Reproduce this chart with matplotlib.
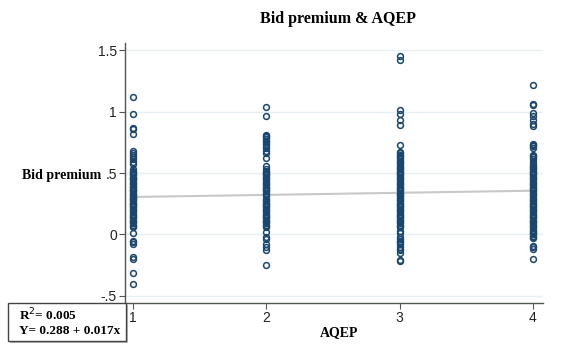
import numpy as np
import matplotlib.pyplot as plt
from matplotlib.patches import Rectangle

# AQEP categories and observed bid premiums
aqep_levels = [1, 2, 3, 4]

premium_1 = [1.12, 0.98, 0.87, 0.86, 0.82, 0.68, 0.66, 0.65, 0.63, 0.61, 0.59, 0.57,
             0.53, 0.52, 0.51, 0.50, 0.49, 0.48, 0.47, 0.46, 0.455, 0.45, 0.44, 0.43,
             0.42, 0.41, 0.40, 0.39, 0.385, 0.37, 0.365, 0.36, 0.35, 0.34, 0.33, 0.32,
             0.31, 0.30, 0.295, 0.29, 0.28, 0.27, 0.26, 0.25, 0.245, 0.24, 0.23, 0.22,
             0.21, 0.20, 0.19, 0.18, 0.17, 0.16, 0.15, 0.14, 0.13, 0.12, 0.11, 0.10,
             0.09, 0.08, 0.07, 0.06,
             0.01, -0.05, -0.06, -0.08, -0.18, -0.20, -0.31, -0.40]
premium_2 = [1.04, 0.96, 0.81, 0.80, 0.79, 0.78, 0.76, 0.75, 0.74, 0.72, 0.70, 0.68, 0.66,
             0.62, 0.56,
             0.53, 0.52, 0.51, 0.50, 0.49, 0.48, 0.47, 0.46, 0.45, 0.44, 0.43, 0.42,
             0.41, 0.40, 0.39, 0.38, 0.37, 0.36, 0.35, 0.34, 0.33, 0.31, 0.29, 0.28,
             0.27, 0.26, 0.25, 0.24, 0.23, 0.22, 0.21, 0.20, 0.19, 0.18, 0.17, 0.16,
             0.15, 0.14, 0.13, 0.12, 0.11, 0.10, 0.09, 0.08, 0.07, 0.06,
             0.02, -0.02, -0.04, -0.08, -0.10, -0.13, -0.25]
premium_3 = [1.45, 1.42, 1.01, 0.98, 0.93, 0.89, 0.73, 0.67, 0.66, 0.65, 0.64, 0.63, 0.61,
             0.60, 0.59, 0.58, 0.57, 0.56, 0.55, 0.54, 0.53, 0.52, 0.51, 0.50, 0.49,
             0.48, 0.47, 0.46, 0.45, 0.44, 0.43, 0.42, 0.41, 0.40, 0.39, 0.38, 0.37,
             0.36, 0.35, 0.34, 0.33, 0.32, 0.31, 0.30, 0.29, 0.28, 0.27, 0.26, 0.25,
             0.24, 0.23, 0.22, 0.21, 0.20, 0.19, 0.18, 0.17, 0.16, 0.15, 0.14, 0.13,
             0.12, 0.11, 0.10, 0.09, 0.08, 0.07, 0.06,
             0.03, 0.01, -0.02, -0.04, -0.05, -0.06, -0.08, -0.10, -0.12, -0.13,
             -0.15, -0.21, -0.22]
premium_4 = [1.22, 1.06, 1.05, 0.99, 0.96, 0.93, 0.90, 0.88, 0.74, 0.73, 0.72, 0.70,
             0.65, 0.64, 0.63, 0.61, 0.59,
             0.57, 0.56, 0.55, 0.54, 0.53, 0.52, 0.51, 0.50, 0.49, 0.48, 0.47, 0.46,
             0.45, 0.44, 0.43, 0.42, 0.41, 0.40, 0.39, 0.38, 0.37, 0.36, 0.35, 0.34,
             0.33, 0.32, 0.31, 0.30, 0.29, 0.28, 0.27, 0.26, 0.25, 0.24, 0.23, 0.22,
             0.21, 0.20, 0.19, 0.18, 0.17, 0.16, 0.15, 0.14, 0.13, 0.12, 0.11, 0.10,
             0.09, 0.08, 0.07, 0.06, 0.05, 0.04, 0.03, 0.02, 0.01, 0.00, -0.01,
             -0.02, -0.03,
             -0.09, -0.10, -0.12, -0.20]
premiums = [premium_1, premium_2, premium_3, premium_4]

# fitted line
intercept = 0.288
slope = 0.017
r_squared = 0.005

y_ticks = [-0.5, 0, 0.5, 1, 1.5]
y_tick_labels = ['-.5', '0', '.5', '1', '1.5']

navy = '#1a476f'
serif = ['Liberation Serif', 'DejaVu Serif']
sans = ['Liberation Sans', 'DejaVu Sans']

fig = plt.figure(figsize=(5.66, 3.45), dpi=100)
ax = fig.add_axes([0.221, 0.122, 0.738, 0.753])

for grid_y in y_ticks:
    ax.axhline(grid_y, color='#e6eff2', lw=1.0, zorder=0)

for level, vals in zip(aqep_levels, premiums):
    ax.plot([level] * len(vals), vals, linestyle='none', marker='o', ms=4.2,
            mfc='none', mec=navy, mew=1.1, zorder=3)

xs = np.array([aqep_levels[0], aqep_levels[-1]])
ax.plot(xs, intercept + slope * xs, color='#c8c8c8', lw=1.5, zorder=2)

ax.set_xlim(0.94, 4.075)
ax.set_ylim(-0.557, 1.557)
ax.set_xticks(aqep_levels)
ax.set_xticklabels([str(v) for v in aqep_levels], family=sans, fontsize=10, color='#222222')
ax.set_yticks(y_ticks)
ax.set_yticklabels(y_tick_labels, family=sans, fontsize=10, color='#222222')
ax.tick_params(axis='both', direction='out', length=4, width=0.8, color='#555555', pad=2)

for side in ['top', 'right']:
    ax.spines[side].set_visible(False)
for side in ['left', 'bottom']:
    ax.spines[side].set_color('#555555')
    ax.spines[side].set_linewidth(1.0)

fig.text(0.597, 0.945, 'Bid premium & AQEP', ha='center', va='center',
         family=serif, fontweight='bold', fontsize=11.5)
fig.text(0.038, 0.492, 'Bid premium', ha='left', va='center',
         family=serif, fontweight='bold', fontsize=10)
fig.text(0.599, 0.035, 'AQEP', ha='center', va='center',
         family=serif, fontweight='bold', fontsize=10)

# R-squared / equation box in the lower-left corner
box_x0, box_y0, box_w, box_h = 8 / 566, 4 / 345, 118 / 566, 38 / 345
fig.patches.append(Rectangle((box_x0 + 2 / 566, box_y0 - 2 / 345), box_w, box_h,
                             transform=fig.transFigure, facecolor='#bbbbbb',
                             edgecolor='none', zorder=1))
fig.patches.append(Rectangle((box_x0, box_y0), box_w, box_h,
                             transform=fig.transFigure, facecolor='white',
                             edgecolor='#444444', lw=1.0, zorder=2))
fig.text(0.034, 0.088, 'R$^{2}$= %.3f' % r_squared, ha='left', va='center',
         family=serif, fontweight='bold', fontsize=9.5, zorder=3)
fig.text(0.034, 0.042, 'Y= %.3f + %.3fx' % (intercept, slope), ha='left', va='center',
         family=serif, fontweight='bold', fontsize=9.5, zorder=3)

fig.savefig('out.png', dpi=100)
